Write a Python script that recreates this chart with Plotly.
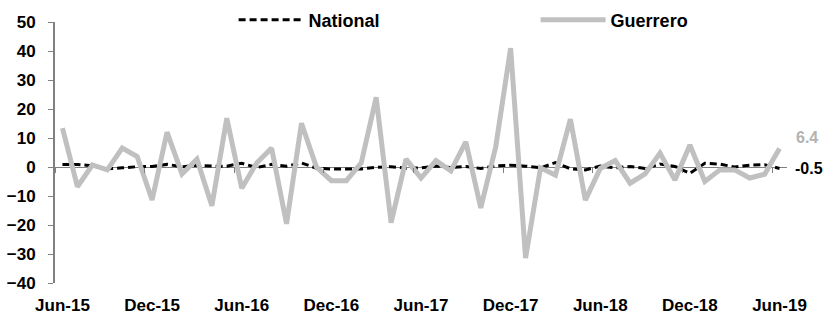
import plotly.graph_objects as go

months = ["Jun-15","Jul-15","Aug-15","Sep-15","Oct-15","Nov-15","Dec-15",
          "Jan-16","Feb-16","Mar-16","Apr-16","May-16","Jun-16","Jul-16","Aug-16","Sep-16","Oct-16","Nov-16","Dec-16",
          "Jan-17","Feb-17","Mar-17","Apr-17","May-17","Jun-17","Jul-17","Aug-17","Sep-17","Oct-17","Nov-17","Dec-17",
          "Jan-18","Feb-18","Mar-18","Apr-18","May-18","Jun-18","Jul-18","Aug-18","Sep-18","Oct-18","Nov-18","Dec-18",
          "Jan-19","Feb-19","Mar-19","Apr-19","May-19","Jun-19"]

guerrero = [13.4, -6.8, 0.7, -1.0, 6.5, 3.6, -11.4,
            12.0, -2.4, 2.7, -13.4, 16.8, -7.3, 1.4, 6.5, -19.6, 15.1, 0.0, -4.7,
            -4.7, 1.4, 24.0, -19.2, 2.7, -3.8, 2.2, -1.3, 8.7, -14.1, 6.9, 41.0,
            -31.4, -0.3, -2.8, 16.5, -11.4, -0.5, 2.2, -5.6, -2.4, 4.8, -4.5, 7.6,
            -5.0, -1.0, -1.0, -3.8, -2.5, 6.4]

national = [0.9, 0.9, 0.4, -0.6, -0.3, 0.1, 0.2,
            0.9, 0.1, 0.6, 0.3, 0.3, 1.3, -0.2, 0.9, 0.3, 1.4, -0.4, -0.7,
            -0.8, -0.7, -0.1, 0.1, -0.4, -0.3, 0.3, -0.2, 0.2, -0.5, 0.4, 0.6,
            0.3, -0.3, 1.5, -0.6, -1.0, 0.3, -0.3, 0.2, -0.5, 1.0, 0.2, -2.2,
            1.3, 1.0, 0.0, 0.6, 0.8, -0.5]

tick_idx = list(range(0, 49, 6))
tick_text = [months[i] for i in tick_idx]

FONT = "Liberation Sans, Arial, sans-serif"
x = list(range(len(months)))
ymin, ymax = -40, 50

fig = go.Figure()
fig.add_trace(go.Scatter(x=x, y=national, mode="lines", name="National",
                         line=dict(color="black", width=3, dash="7px,4px")))
fig.add_trace(go.Scatter(x=x, y=guerrero, mode="lines", name="Guerrero",
                         line=dict(color="#c0c0c0", width=5)))
# invisible trace for secondary axis (tick marks on zero line)
fig.add_trace(go.Scatter(x=[x[0]], y=[0], xaxis="x2", mode="markers",
                         marker=dict(opacity=0), showlegend=False, hoverinfo="skip"))

fig.add_annotation(x=x[-1], y=guerrero[-1], text=f"<b>{guerrero[-1]}</b>", showarrow=False,
                   xanchor="left", yanchor="middle", xshift=14, yshift=11,
                   font=dict(family=FONT, size=16, color="#b3b3b3"))
fig.add_annotation(x=x[-1], y=national[-1], text=f"<b>{national[-1]}</b>", showarrow=False,
                   xanchor="left", yanchor="middle", xshift=13,
                   font=dict(family=FONT, size=16, color="black"))

fig.update_layout(
    width=825, height=322,
    margin=dict(l=55, r=38, t=22, b=39, autoexpand=False),
    plot_bgcolor="white", paper_bgcolor="white",
    font=dict(family=FONT, size=17, color="black"),
    showlegend=True,
    legend=dict(orientation="h", x=0.244, xanchor="left",
                yref="container", y=1 - 20 / 322, yanchor="middle",
                font=dict(family=FONT, size=18, color="black", weight="bold"),
                itemwidth=65, entrywidth=222, entrywidthmode="pixels",
                bgcolor="rgba(0,0,0,0)"),
    xaxis=dict(range=[-0.5, 48.5], tickvals=tick_idx, ticktext=tick_text,
               showgrid=False, zeroline=False, showline=False, ticks="",
               tickfont=dict(family=FONT, size=17, color="black", weight="bold"),
               ticklabelstandoff=10),
    xaxis2=dict(range=[-0.5, 48.5], overlaying="x", anchor="free",
                position=(0 - ymin) / (ymax - ymin),
                tickvals=[i - 0.5 for i in tick_idx], ticks="outside", ticklen=5,
                tickcolor="#808080", tickwidth=1, showticklabels=False,
                showgrid=False, zeroline=False, showline=False),
    yaxis=dict(range=[ymin, ymax], dtick=10, showgrid=False,
               zeroline=True, zerolinecolor="#808080", zerolinewidth=1,
               showline=True, linecolor="#808080", linewidth=2,
               ticks="outside", ticklen=5, tickcolor="#808080",
               tickfont=dict(family=FONT, size=17, color="black", weight="bold"),
               ticklabelstandoff=9),
)

fig.write_html("out.html", config={"displayModeBar": False},
               post_script="document.body.style.margin='0';document.body.style.overflow='hidden';")
